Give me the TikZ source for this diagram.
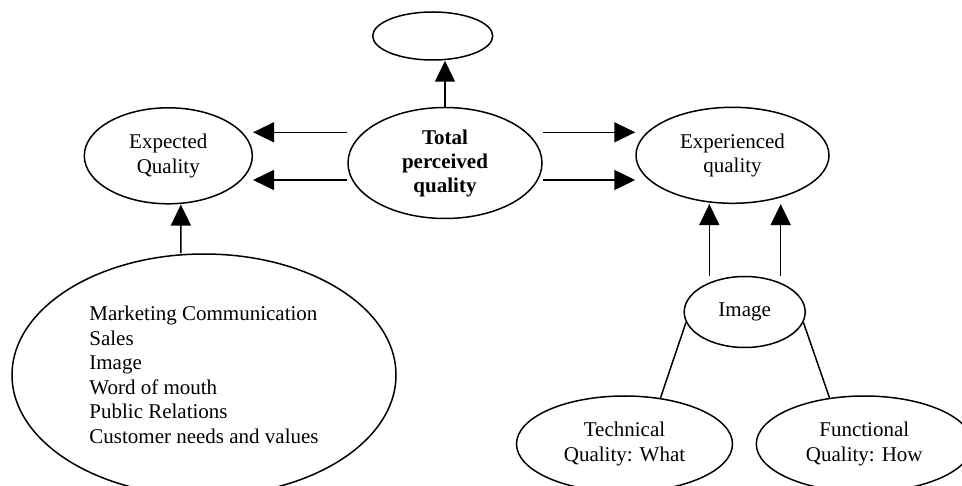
\documentclass[tikz,border=0pt]{standalone}
\usepackage{fontspec}
\setmainfont{Liberation Serif}
\usetikzlibrary{shapes.geometric,arrows.meta}

\begin{document}
\begin{tikzpicture}[x=1pt, y=-1pt, line width=1.5pt,
    >={Triangle[width=20pt,length=21pt]},
    oval/.style={draw, ellipse, inner sep=0pt, align=center, font=\fontsize{21}{24.5}\selectfont}]
    \path[use as bounding box, clip] (0,0) rectangle (962,486);
    \node[oval, minimum width=120pt, minimum height=48pt] (blank) at (432.7,36) {};
    \node[oval, minimum width=194pt, minimum height=111pt, font=\fontsize{21}{24}\selectfont\bfseries] (total) at (445,163) {Total\\perceived\\quality};
    \node[oval, minimum width=168pt, minimum height=96pt] (expected) at (168.3,155.8) {Expected\\Quality};
    \node[oval, minimum width=193pt, minimum height=96pt] (experienced) at (732.5,155.3) {Experienced\\quality};
    \node[oval, minimum width=384pt, minimum height=242pt, align=left] (sources) at (204,375) {Marketing Communication\\Sales\\Image\\Word of mouth\\Public Relations\\Customer needs and values};
    \node[oval, minimum width=121pt, minimum height=71pt] (image) at (744.7,312) {Image};
    \node[oval, minimum width=216pt, minimum height=96pt] (technical) at (624.5,444) {Technical\\Quality: What};
    \node[oval, minimum width=216pt, minimum height=96pt] (functional) at (864.3,444) {Functional\\Quality: How};
    \draw[->] (total.north) -- (total.north |- blank.south);
    \draw[->] ([yshift=30.7pt]total.west) -- ([yshift=23.5pt]expected.east);
    \draw[->] ([yshift=-17pt]total.west) -- ([yshift=-24.2pt]expected.east);
    \draw[->] ([yshift=30.7pt]total.east) -- ([yshift=23pt]experienced.west);
    \draw[->] ([yshift=-17pt]total.east) -- ([yshift=-24.7pt]experienced.west);
    \draw[->] ([xshift=-23pt]sources.north) -- ([xshift=12.5pt]expected.south);
    \draw[->] ([xshift=-35.4pt]image.north) -- ([xshift=-35.4pt]image.north |- experienced.south);
    \draw[->] ([xshift=36pt]image.north) -- ([xshift=36pt]image.north |- experienced.south);
    \draw (image.190) -- (technical.52);
    \draw (image.350) -- (functional.127);
\end{tikzpicture}
\end{document}
